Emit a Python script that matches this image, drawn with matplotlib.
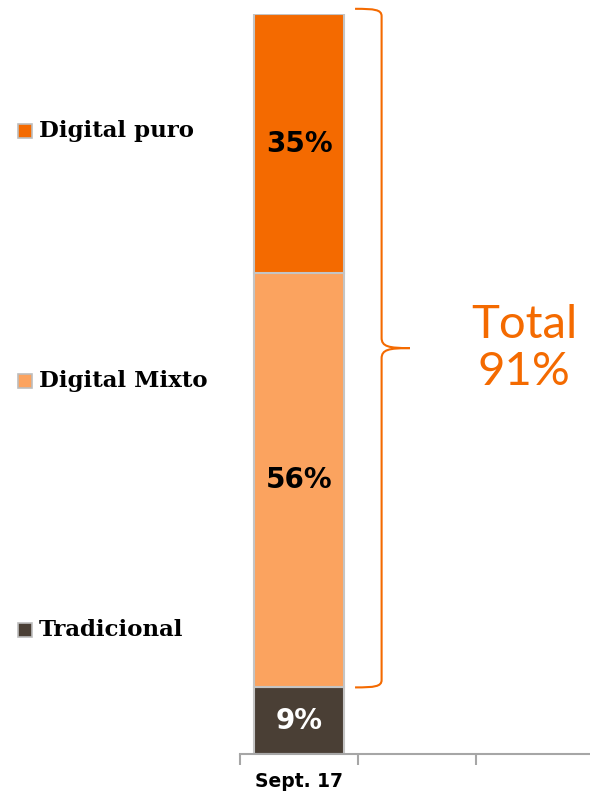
import matplotlib
matplotlib.use("Agg")
import matplotlib.pyplot as plt
from matplotlib.patches import Rectangle, PathPatch
from matplotlib.path import Path

# stacked share by channel type
categories = ["Sept. 17", "", ""]
series_names = ["Tradicional", "Digital Mixto", "Digital puro"]
series_values = [9, 56, 35]
series_colors = ["#4a3f35", "#fba35f", "#f46a00"]
label_colors = ["white", "black", "black"]
total_label = "Total\n91%"
total_digital = series_values[1] + series_values[2]

ORANGE = "#f46a00"
GRID = "#a6a6a6"

fig = plt.figure(figsize=(5.9, 8.0), dpi=100)
ax = fig.add_axes([240 / 590, 46 / 800, 354 / 590, 740 / 800])

x = list(range(len(categories)))
bottom = 0
for name, val, color, lc in zip(series_names, series_values, series_colors, label_colors):
    ax.bar(x[0], val, width=0.77, bottom=bottom, color=color,
           edgecolor="#c4c4c4", linewidth=1.5, zorder=2)
    ax.text(x[0], bottom + val / 2, f"{val}%", ha="center", va="center",
            fontsize=20, fontweight="bold", color=lc, family="DejaVu Sans")
    bottom += val

ax.set_xlim(-0.5, len(categories) - 0.5)
ax.set_ylim(0, 100)
ax.set_yticks([])
for side in ("top", "right", "left"):
    ax.spines[side].set_visible(False)
ax.spines["bottom"].set_color(GRID)
ax.spines["bottom"].set_linewidth(1.5)
ax.set_xticks(x)
ax.set_xticklabels(categories, fontsize=13.5, fontweight="bold", family="DejaVu Sans")
ax.tick_params(axis="x", which="major", length=0, pad=13)
ax.set_xticks([i - 0.5 for i in range(len(categories) + 1)], minor=True)
ax.tick_params(axis="x", which="minor", length=8, width=1.5, color=GRID, direction="out")

# curly brace spanning the two digital segments
lo = series_values[0]
hi = lo + total_digital + 0.7
mid = (lo + hi) / 2
x0, xv, xt = 0.475, 0.70, 0.94
verts = [
    (x0, hi),
    (0.64, hi), (xv, hi - 0.1), (xv, hi - 1.0),
    (xv, mid + 1.4),
    (xv, mid + 0.2), (0.76, mid), (xt, mid),
    (0.76, mid), (xv, mid - 0.2), (xv, mid - 1.4),
    (xv, lo + 1.0),
    (xv, lo + 0.1), (0.64, lo), (x0, lo),
]
codes = [Path.MOVETO,
         Path.CURVE4, Path.CURVE4, Path.CURVE4,
         Path.LINETO,
         Path.CURVE4, Path.CURVE4, Path.CURVE4,
         Path.CURVE4, Path.CURVE4, Path.CURVE4,
         Path.LINETO,
         Path.CURVE4, Path.CURVE4, Path.CURVE4]
ax.add_patch(PathPatch(Path(verts, codes), facecolor="none", edgecolor=ORANGE,
                       linewidth=1.5, clip_on=False, zorder=3))

ax.text(1.91, mid, total_label, ha="center", va="center", color=ORANGE,
        fontsize=34, family="Lato", linespacing=1.15)

# legend placed down the left side
legend_y = [630, 381, 131]
for name, color, py in zip(series_names, series_colors, legend_y):
    fy = 1 - py / 800
    fig.patches.append(Rectangle((18 / 590, fy - 7 / 800), 14 / 590, 14 / 800,
                                 transform=fig.transFigure, facecolor=color,
                                 edgecolor="#bdbdbd", linewidth=1.2))
    fig.text(39 / 590, fy, name, ha="left", va="center", fontsize=16.5,
             fontweight="bold", family="DejaVu Serif")

fig.savefig("out.png", dpi=100)
